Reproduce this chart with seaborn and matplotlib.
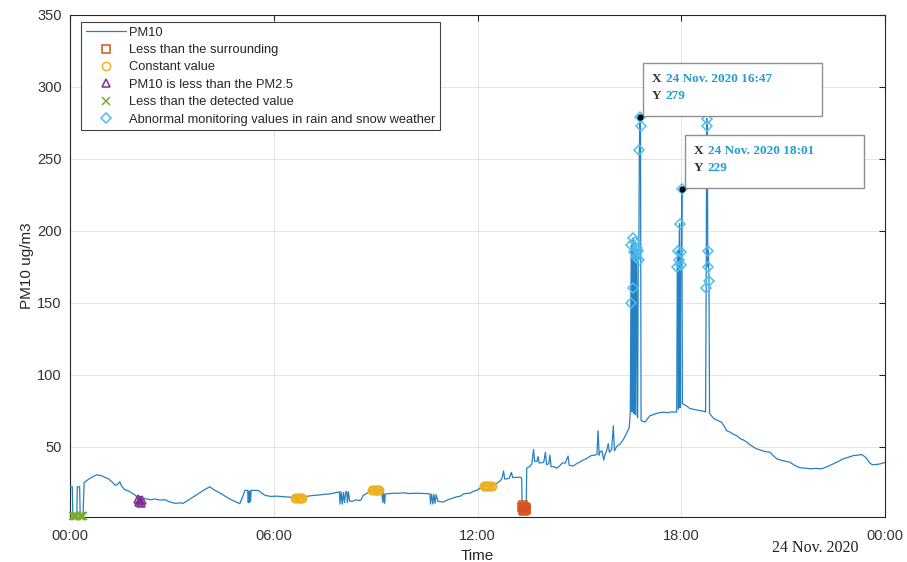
import numpy as np
import pandas as pd
import matplotlib
matplotlib.use("Agg")
import matplotlib.pyplot as plt
import seaborn as sns
from matplotlib.patches import Rectangle
from matplotlib.transforms import ScaledTranslation

# ---- PM10 record for 24 Nov. 2020 (minute of day, ug/m3), by time of day ----
night_t = [0, 4, 5, 7, 9, 11, 12, 13, 17, 18, 20, 22, 23, 25]
night_v = [22, 22, 2, 2, 2, 2, 2, 22, 22, 2, 2, 2, 2, 25]

morning_t = [32, 40, 47, 55, 62, 68, 74, 80, 85, 88, 91, 97, 104, 110, 116,
             120, 122, 124, 126, 128, 130, 136, 142, 150, 158, 168, 176, 186,
             194, 200, 210, 220, 230, 240, 247, 254, 261, 268, 276, 285, 293,
             300, 305, 309, 314, 315, 316, 317, 318, 319, 320, 321, 325, 333,
             339, 345, 355]
morning_v = [27, 29, 30.3, 29.8, 28.5, 27.5, 25.5, 23, 24, 25.5, 22.5, 20, 19,
             17.5, 16, 13.5, 11.5, 13, 11, 12.5, 14, 13.5, 13, 13.5, 12.8, 13,
             11.5, 10.5, 10.8, 10.5, 13, 15.5, 18, 20.5, 22, 20, 18.5, 17, 15,
             13, 11.5, 10.3, 15, 19.5, 19.5, 11, 19, 11, 19, 12, 19.5, 19.5,
             19.5, 19.4, 17.5, 16, 15.3]

midday_t = [365, 371, 380, 388, 394, 398, 400, 402, 404, 406, 408, 410, 414,
            420, 430, 440, 450, 458, 465, 470, 476, 477, 479, 481, 483, 485,
            487, 489, 490, 492, 494, 496, 500, 505, 510, 514, 518, 525, 530,
            534, 536, 538, 540, 542, 544, 546, 550, 553, 554, 556, 557, 560,
            570, 580, 590, 600, 610, 620, 630, 636, 637, 639, 641, 643, 645,
            647, 650, 655, 660, 668, 675, 683, 690, 695, 702, 707, 713, 719,
            724, 728]
midday_v = [15.5, 15.3, 15, 14.8, 14.6, 14.5, 14.5, 14.5, 14.5, 14.5, 14.5,
            14.5, 14.7, 15.5, 16, 16.3, 16.8, 17, 17.5, 18, 18.5, 10, 18.5, 10,
            18, 11, 18.5, 18.5, 11, 18.5, 12, 12, 12, 13, 12.5, 12.8, 16, 17.5,
            19, 19.5, 19.5, 19.5, 19.5, 19.5, 19.5, 19.5, 19.3, 11, 18, 10.5,
            17, 17.1, 17.5, 17.5, 17.8, 17.3, 17.5, 17.4, 17.3, 17, 10, 17, 10,
            16.8, 10.5, 16.5, 12, 11.5, 11.5, 13, 14, 15, 15.5, 17, 17.5, 17.5,
            19, 19.5, 21, 22]

afternoon_t = [731, 733, 735, 737, 739, 741, 743, 745, 751, 758, 763, 766,
               768, 772, 776, 780, 782, 788, 795, 798, 799, 800, 801, 802, 803,
               804, 805, 806, 807, 813, 816, 819, 821, 825, 827, 829, 833, 837,
               840, 842, 846, 848, 850, 855, 860, 865, 870, 875, 880, 882, 889,
               895, 904, 912, 921, 927, 931, 933, 935, 936, 940, 943, 945, 948,
               951, 953, 957, 960, 962, 966, 972, 978, 984, 988]
afternoon_v = [22.5, 22.5, 22.5, 22.5, 22.5, 22.5, 22.5, 22.5, 23.5, 25.5,
               27.5, 33, 27.5, 27.5, 28, 32, 28.5, 28.5, 28.7, 28, 8, 6, 9, 5,
               7, 8, 6, 7, 35, 36.3, 38, 48, 39.8, 39.5, 43, 38.5, 38.7, 39, 46,
               37.5, 38, 44, 36, 36, 34.9, 36.5, 38.6, 38.5, 43.4, 37, 36.5, 38,
               40, 41.5, 43.7, 44, 44.5, 61, 44, 46, 47, 40.5, 44, 47, 52, 46,
               48, 64.4, 47, 50, 51.8, 55, 59.9, 63]

peak_t = [990, 991, 992, 993, 994, 995, 996, 997, 998, 999, 1000, 1001, 1002,
          1003, 1004, 1005, 1006, 1007, 1008, 1009, 1012, 1016, 1020, 1025,
          1030, 1036, 1042, 1048, 1055, 1062, 1068, 1072, 1073, 1074, 1075,
          1076, 1077, 1078, 1079, 1080, 1081, 1082, 1086, 1090, 1095, 1100,
          1106, 1113, 1120, 1123, 1124, 1125, 1126, 1127, 1128, 1129, 1130]
peak_v = [74, 150, 190, 74, 160, 195, 73, 185, 192, 72, 182, 188, 72, 70, 186,
          180, 256, 279, 273, 68, 67.5, 67, 69, 71.6, 72, 73, 73.5, 73.9, 73.5,
          74, 73.9, 74, 175, 186, 76, 180, 205, 77, 185, 176, 229, 79.7, 79,
          78, 76.5, 76, 75.5, 75, 74.5, 74, 160, 278, 273, 175, 186, 165, 73]

evening_t = [1134, 1138, 1145, 1151, 1156, 1160, 1166, 1172, 1178, 1184, 1190,
             1196, 1204, 1213, 1220, 1228, 1237, 1243, 1249, 1256, 1264, 1272,
             1280, 1290, 1299, 1308, 1318, 1328, 1338, 1349, 1357, 1366, 1375,
             1384, 1392, 1399, 1404, 1408, 1412, 1417, 1425, 1432, 1440]
evening_v = [71, 69.3, 68, 67, 64, 61.1, 60, 58.5, 57.6, 55.5, 54.5, 53, 50.5,
             48.4, 47.5, 46.5, 46, 43.5, 41.4, 40.5, 39.8, 39.1, 37, 35.2, 35,
             34.5, 34.8, 34.5, 36, 38, 39.5, 41.4, 42.5, 43.7, 44, 44.4, 43,
             41.4, 39, 37.4, 37.5, 38, 39]

# ---- minutes flagged by each quality check ----
below_surrounding_t = [799, 800, 801, 802, 803, 804, 805, 806]
constant_value_t = [398, 400, 402, 404, 406, 408, 410,
                    534, 536, 538, 540, 542, 544, 546,
                    731, 733, 735, 737, 739, 741, 743, 745]
below_pm25_t = [120, 122, 124, 126, 128]
below_detection_t = [5, 7, 9, 11, 12, 18, 20, 22, 23]
rain_snow_t = [991, 992, 994, 995, 997, 998, 1000, 1001, 1004, 1005, 1006,
               1007, 1008, 1073, 1074, 1076, 1077, 1079, 1080, 1081, 1124,
               1125, 1126, 1127, 1128, 1129]

# data tips shown on the plot
tip_t = [1007, 1081]

tick_minutes = [0, 360, 720, 1080, 1440]
tick_labels = ["00:00", "06:00", "12:00", "18:00", "00:00"]
y_ticks = [50, 100, 150, 200, 250, 300, 350]

# ---- assemble ----
minutes = np.concatenate([night_t, morning_t, midday_t, afternoon_t, peak_t, evening_t])
pm10 = np.concatenate([night_v, morning_v, midday_v, afternoon_v, peak_v, evening_v])
df = pd.DataFrame({"minute": minutes, "pm10": pm10})
lookup = dict(zip(df["minute"], df["pm10"]))


def pick(ts):
    return [lookup[t] for t in ts]


LINE = "#2680c2"
sns.set_theme(style="white")
plt.rcParams["font.family"] = ["Liberation Sans", "DejaVu Sans"]

fig = plt.figure(figsize=(9.07, 5.62), dpi=100)
ax = fig.add_axes([70 / 907, 45 / 562, 815 / 907, 502 / 562])

sns.lineplot(data=df, x="minute", y="pm10", ax=ax, color=LINE, lw=0.9,
             estimator=None, sort=False, label="PM10", zorder=3)

flag_styles = [
    (below_surrounding_t, "s", "#D95319", "Less than the surrounding"),
    (constant_value_t, "o", "#EDB120", "Constant value"),
    (below_pm25_t, "^", "#7E2F8E", "PM10 is less than the PM2.5"),
    (below_detection_t, "x", "#77AC30", "Less than the detected value"),
    (rain_snow_t, "D", "#4DBEEE", "Abnormal monitoring values in rain and snow weather"),
]
for ts, mk, col, lab in flag_styles:
    ms = 5 if mk == "D" else 6
    ax.plot(ts, pick(ts), ls="none", marker=mk, ms=ms, mfc="none", mec=col,
            mew=1.1, label=lab, zorder=4, clip_on=False)

ax.set_xlim(0, 1440)
ax.set_ylim(1, 350)
ax.set_xticks(tick_minutes)
ax.set_xticklabels(tick_labels)
ax.set_yticks(y_ticks)
ax.grid(True, color="#e4e4e4", lw=0.7)
ax.set_axisbelow(True)
for s in ax.spines.values():
    s.set_visible(True)
    s.set_color("#262626")
    s.set_linewidth(0.8)
ax.tick_params(direction="in", length=4, width=0.8, top=True, right=True,
               color="#262626", labelcolor="#333333", labelsize=10.5)
ax.tick_params(axis="x", pad=9)
ax.tick_params(axis="y", pad=6)
ax.set_xlabel("Time", fontsize=11, color="#262626", labelpad=4)
ax.set_ylabel("PM10 ug/m3", fontsize=11, color="#262626", labelpad=2)

leg = ax.legend(loc="upper left", bbox_to_anchor=(11 / 815, 1 - 7 / 502),
                borderaxespad=0, frameon=True, fancybox=False, framealpha=1,
                edgecolor="#444444", fontsize=9.3, handlelength=3.1,
                handletextpad=0.3, labelspacing=0.42, borderpad=0.35)
leg.get_frame().set_linewidth(0.8)
for t in leg.get_texts():
    t.set_color("#262626")

# ---- data tips ----
TIP_BLUE = "#1f9fd3"
px = 1 / 100
for t in tip_t:
    v = lookup[t]
    tr = fig.dpi_scale_trans + ScaledTranslation(t, v, ax.transData)
    ax.add_artist(Rectangle((3 * px, 1 * px), 179 * px, 53 * px, transform=tr,
                            fc="white", ec="#8f8f8f", lw=1.0, zorder=10,
                            clip_on=False))
    rows = [("X", f"24 Nov. 2020 {t // 60:02d}:{t % 60:02d}", 38),
            ("Y", f"{v:g}", 21)]
    for key, val, dy in rows:
        ax.text(12 * px, dy * px, key, transform=tr, family="Liberation Serif",
                fontsize=9.5, fontweight="bold", color="#333333", va="center",
                ha="left", zorder=11)
        ax.text(26 * px, dy * px, val, transform=tr, family="Liberation Serif",
                fontsize=9.5, fontweight="bold", color=TIP_BLUE, va="center",
                ha="left", zorder=11)
    ax.plot([t], [v], marker="o", ms=3.5, color="black", zorder=12)

fig.text(815 / 907, 1 - 548 / 562, "24 Nov. 2020", family="Liberation Serif",
         fontsize=11.5, ha="center", va="center", color="#222222")

fig.savefig("out.png", dpi=100)
